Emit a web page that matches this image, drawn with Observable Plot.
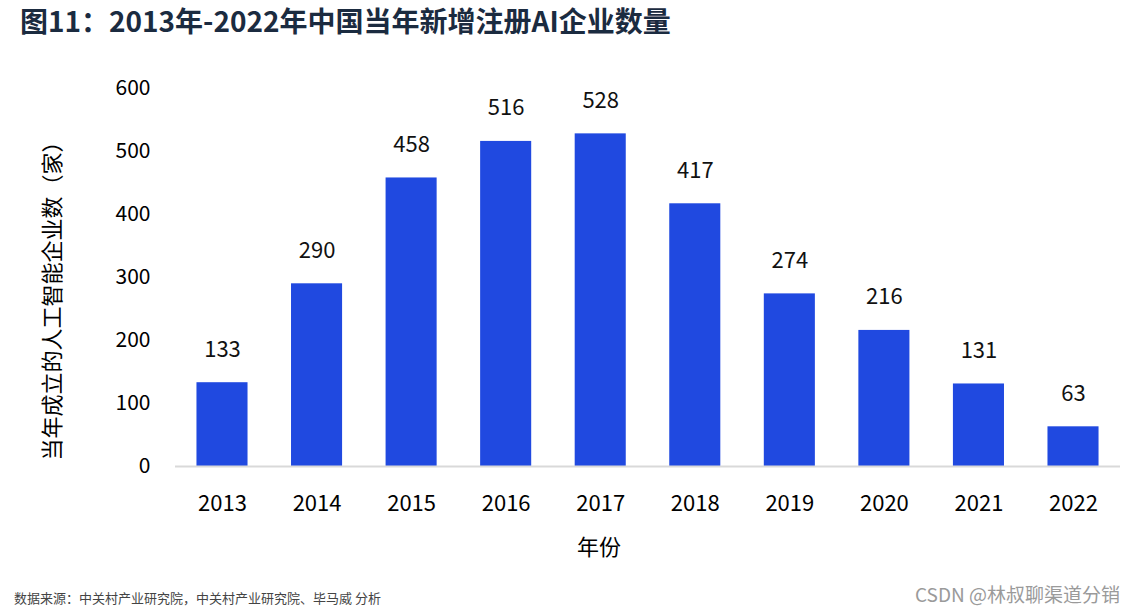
<!DOCTYPE html>
<html><head><meta charset="utf-8">
<script src="https://cdn.jsdelivr.net/npm/d3@7"></script>
<script src="https://cdn.jsdelivr.net/npm/@observablehq/plot@0.6"></script>
<style>
body{margin:0;background:#fff;width:1135px;height:612px;position:relative;overflow:hidden;font-family:"Noto Sans CJK SC","Noto Sans",sans-serif;}
#title{position:absolute;left:20px;top:0px;font-size:28px;font-weight:bold;color:#1b2b40;}
#chart{position:absolute;left:0;top:60px;}
#src{position:absolute;left:14px;top:588px;font-size:13px;color:#444;}
#wm{position:absolute;right:15px;top:580px;font-size:19px;color:#9a9a9a;}
</style></head>
<body>
<div id="title">图11：2013年-2022年中国当年新增注册AI企业数量</div>
<div id="chart"></div>
<div id="src">数据来源：中关村产业研究院，中关村产业研究院、毕马威 分析</div>
<div id="wm">CSDN @林叔聊渠道分销</div>
<script>
const years = ["2013","2014","2015","2016","2017","2018","2019","2020","2021","2022"];
const counts = [133,290,458,516,528,417,274,216,131,63];
const yTicks = [0,100,200,300,400,500,600];
const data = years.map((y,i)=>({year:y,count:counts[i]}));
const chart = Plot.plot({
  width:1135, height:520,
  marginLeft:175, marginRight:15, marginTop:28, marginBottom:114,
  style:{fontFamily:'"Noto Sans CJK SC","Noto Sans",sans-serif', fontSize:"21px", color:"#000"},
  x:{domain:years, round:false, paddingInner:0.46, paddingOuter:0.227, label:null, tickSize:0, tickPadding:29},
  y:{domain:[0,600], ticks:yTicks, label:null, tickSize:0, tickPadding:25, tickFormat:d=>String(d)},
  marks:[
    Plot.axisX({tickSize:0, tickPadding:29, fontSize:22, label:null}),
    Plot.axisY({ticks:yTicks, tickSize:0, tickPadding:25, fontSize:21, label:null, tickFormat:d=>String(d)}),
    Plot.barY(data,{x:"year",y:"count",fill:"#2049e0"}),
    Plot.ruleY([0],{stroke:"#d9d9d9",strokeWidth:2}),
    Plot.text(data,{x:"year",y:"count",text:d=>String(d.count),dy:-33,fontSize:22,fill:"#111"}),
    Plot.text(["年份"],{frameAnchor:"bottom",text:d=>d,dx:-49,dy:88,fontSize:22,fill:"#000"}),
    Plot.text(["当年成立的人工智能企业数（家）"],{frameAnchor:"left",textAnchor:"middle",text:d=>d,rotate:-90,dx:-123,dy:18,fontSize:22,fill:"#000"})
  ]
});
document.getElementById("chart").appendChild(chart);
</script>
</body></html>
